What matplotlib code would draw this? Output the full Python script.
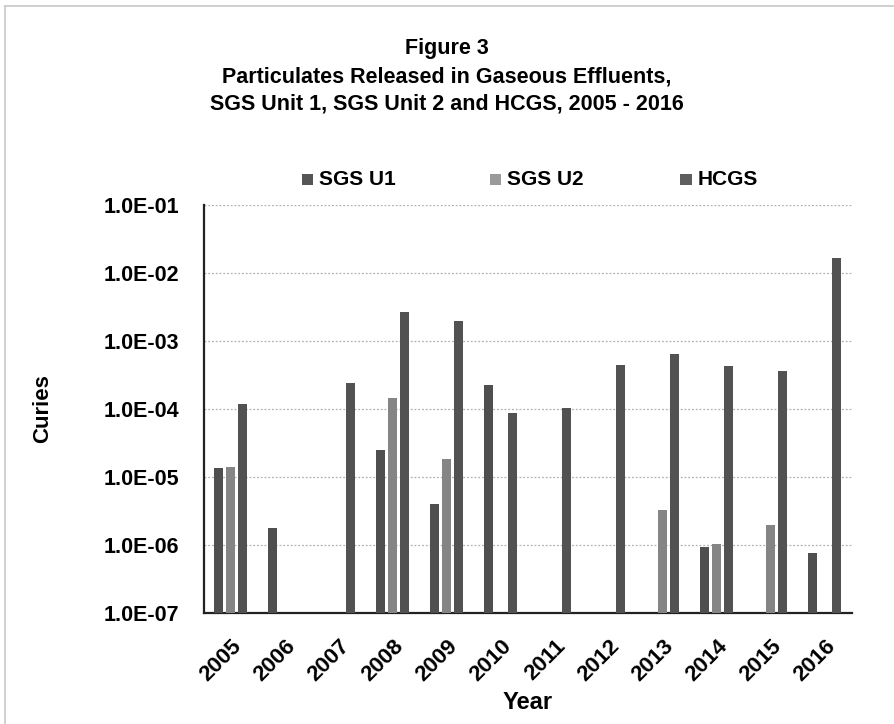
import numpy as np
import matplotlib
matplotlib.use("Agg")
import matplotlib.pyplot as plt
from matplotlib.patches import Rectangle

plt.rcParams["font.family"] = ["Liberation Sans", "DejaVu Sans"]
plt.rcParams["font.weight"] = "bold"

years = ["2005", "2006", "2007", "2008", "2009", "2010",
         "2011", "2012", "2013", "2014", "2015", "2016"]

# Curies released per year (NaN = no release reported)
sgs_u1 = [1.37e-5, 1.8e-6, np.nan, 2.5e-5, 4.0e-6, 2.25e-4,
          np.nan, np.nan, np.nan, 9.3e-7, np.nan, 7.6e-7]
sgs_u2 = [1.42e-5, np.nan, np.nan, 1.47e-4, 1.84e-5, np.nan,
          np.nan, np.nan, 3.3e-6, 1.05e-6, 2.0e-6, np.nan]
hcgs = [1.17e-4, np.nan, 2.4e-4, 2.7e-3, 1.97e-3, 8.8e-5,
        1.02e-4, 4.5e-4, 6.4e-4, 4.3e-4, 3.6e-4, 1.65e-2]

series = [("SGS U1", sgs_u1, "#4f4f4f", "#555555"),
          ("SGS U2", sgs_u2, "#858585", "#9a9a9a"),
          ("HCGS", hcgs, "#525252", "#5e5e5e")]

fig = plt.figure(figsize=(8.94, 7.24), dpi=100)
ax = fig.add_axes([0.228, 0.1533, 0.725, 0.5636])

x = np.arange(len(years))
width = 0.167
offsets = [-0.222, 0.0, 0.222]
bottom = 1e-7
for (name, vals, col, _), off in zip(series, offsets):
    v = np.array(vals, dtype=float)
    ax.bar(x + off, v - bottom, width, bottom=bottom, color=col, edgecolor="none", zorder=3)

ax.set_yscale("log")
ax.set_ylim(1e-7, 1e-1)
ax.set_xlim(-0.5, len(years) - 0.5)
ticks = [1e-7, 1e-6, 1e-5, 1e-4, 1e-3, 1e-2, 1e-1]
ax.set_yticks(ticks)
ax.set_yticklabels([f"{t:.1E}" for t in ticks], fontsize=15.5, fontweight="bold")
ax.minorticks_off()
ax.tick_params(axis="y", length=0, pad=18)
ax.tick_params(axis="x", length=0, pad=16)
ax.set_xticks(x)
ax.set_xticklabels(years, rotation=45, ha="right", rotation_mode="anchor",
                   fontsize=16, fontweight="bold")

ax.grid(axis="y", which="major", linestyle=(0, (1.5, 1.5)), color="#b0b0b0", linewidth=0.9, zorder=0)
for s in ["top", "right"]:
    ax.spines[s].set_visible(False)
for s in ["left", "bottom"]:
    ax.spines[s].set_linewidth(1.6)
    ax.spines[s].set_color("#222222")

ax.set_ylabel("Curies", fontsize=16, fontweight="bold", labelpad=36)
ax.set_xlabel("Year", fontsize=17, fontweight="bold", labelpad=4)

# title block
fig.text(0.5, 0.933, "Figure 3", ha="center", va="center", fontsize=15.5, fontweight="bold")
fig.text(0.5, 0.894, "Particulates Released in Gaseous Effluents,", ha="center", va="center",
         fontsize=15.5, fontweight="bold")
fig.text(0.5, 0.856, "SGS Unit 1, SGS Unit 2 and HCGS, 2005 - 2016", ha="center", va="center",
         fontsize=15.5, fontweight="bold")

# legend row
leg_x = [0.338, 0.548, 0.761]
for (name, _, _, lc), lx in zip(series, leg_x):
    fig.patches.append(Rectangle((lx, 0.744), 0.0125, 0.0155, transform=fig.transFigure,
                                 facecolor=lc, edgecolor="none"))
    fig.text(lx + 0.019, 0.752, name, ha="left", va="center", fontsize=15, fontweight="bold")

# page border
fig.add_artist(plt.Line2D([0.006, 0.006], [0.0, 0.992], color="#c8c8c8", lw=1.2, transform=fig.transFigure))
fig.add_artist(plt.Line2D([0.006, 1.0], [0.992, 0.992], color="#c8c8c8", lw=1.2, transform=fig.transFigure))

fig.savefig("out.png", dpi=100)
